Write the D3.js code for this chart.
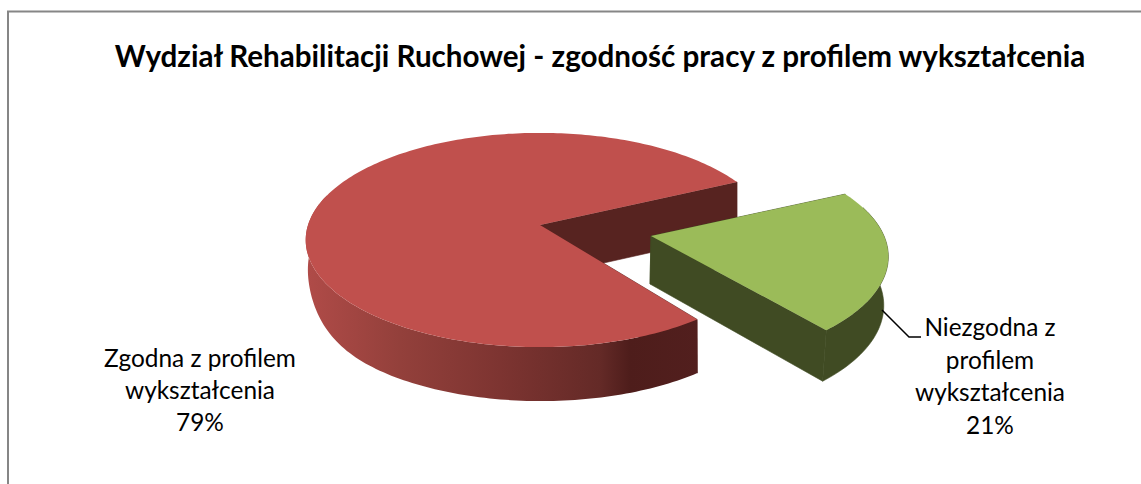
<!DOCTYPE html>
<html>
<head>
<meta charset="utf-8">
<script src="https://cdn.jsdelivr.net/npm/d3@7"></script>
<style>
  html, body { margin: 0; padding: 0; background: #fff; }
  svg { display: block; }
  text { font-family: Lato, "Open Sans", sans-serif; fill: #000; }
</style>
</head>
<body>
<div id="chart"></div>
<script>
const title = "Wydział Rehabilitacji Ruchowej - zgodność pracy z profilem wykształcenia";
const categories = ["Zgodna z profilem wykształcenia", "Niezgodna z profilem wykształcenia"];
const values = [79, 21];
const topColors = ["#c0504d", "#9bbb59"];
const wallColors = ["#572320", "#404b23"];

const width = 1141;
const height = 484;

const svg = d3.select("#chart")
  .append("svg")
  .attr("width", width)
  .attr("height", height)
  .attr("viewBox", [0, 0, width, height]);

// frame, only top and left are in the picture
svg.append("path")
  .attr("d", "M8,484V11.5H1141")
  .attr("fill", "none")
  .attr("stroke", "#868686")
  .attr("stroke-width", 2);

svg.append("text")
  .attr("x", 600)
  .attr("y", 67)
  .attr("text-anchor", "middle")
  .attr("font-size", 29.6)
  .attr("font-weight", 700)
  .text(title);

// apex of each slice, green one is pulled out. squeeze and rot bend the angles
// a bit, the 3d perspective of the original is not a clean projection
const slices = [
  {cx: 540, cy: 225, radiusX: 232, radiusY: 105, persp: 0.14, depth: 52, tilt: 2, lift: 25, shift: 1, shrink: 0.995, squeeze: 0.989, rot: 1.45},
  {cx: 651, cy: 236, radiusX: 233, radiusY: 105, persp: 0.19, depth: 48, tilt: 4, lift: 0, shift: -1, shrink: 0.985, squeeze: 1, rot: 0}
];

const pie = d3.pie()
  .sort(null)
  .startAngle(140 * Math.PI / 180)
  .endAngle(500 * Math.PI / 180);
const arcs = pie(values);

function project(s, a, r, bottom) {
  // a = clockwise from back of the plate
  const v = -Math.cos(a) * r;
  const u = Math.sin(a) * r;
  const w = 1 - s.persp * v;
  const x = s.radiusX * u / w;
  const y = s.radiusY * v / w;
  if (!bottom) return [s.cx + x, s.cy + y];
  // left edge of the red rim runs up almost to the top face
  const lift = u < 0 ? s.lift * Math.pow(-u, 10) : 0;
  return [s.cx + s.shift + x * s.shrink, s.cy + s.depth + s.tilt * v + y - lift];
}

function samples(a0, a1) {
  const n = Math.ceil(Math.abs(a1 - a0) / 0.02);
  return d3.range(n + 1).map(i => a0 + (a1 - a0) * i / n);
}

const line = d3.line();

// Outer wall gradient of the red slice
const defs = svg.append("defs");
const x = d3.scaleLinear().domain([306, 700]).range([0, 100]);
const grad = defs.append("linearGradient")
  .attr("id", "redWall")
  .attr("gradientUnits", "userSpaceOnUse")
  .attr("x1", 306).attr("x2", 700).attr("y1", 0).attr("y2", 0);
[[306, "#b04b48"], [400, "#93403b"], [500, "#7d3431"], [600, "#642a27"], [630, "#4e1d1b"], [700, "#521f1e"]]
  .forEach(d => grad.append("stop").attr("offset", x(d[0]) + "%").attr("stop-color", d[1]));

const g = svg.append("g");

arcs.forEach((d, i) => {
  const s = slices[i];
  const mid = (d.startAngle + d.endAngle) / 2;
  const start = mid + (d.startAngle - mid) * s.squeeze + s.rot * Math.PI / 180;
  const end = mid + (d.endAngle - mid) * s.squeeze + s.rot * Math.PI / 180;

  // cut walls, thin stroke hides the seam to the rim
  [start, end].forEach(a => {
    g.append("path")
      .attr("d", line([project(s, a, 0), project(s, a, 1), project(s, a, 1, true), project(s, a, 0, true)]) + "Z")
      .attr("fill", wallColors[i])
      .attr("stroke", wallColors[i])
      .attr("stroke-width", 0.6);
  });

  // rim, only the part facing the viewer (top face covers the rest)
  const angles = samples(start, end);
  const front = angles.filter(a => Math.cos(a) < 0.3);
  const rim = front.map(a => project(s, a, 1))
    .concat(front.slice().reverse().map(a => project(s, a, 1, true)));
  g.append("path")
    .attr("d", line(rim) + "Z")
    .attr("fill", i === 0 ? "url(#redWall)" : wallColors[i])
    .attr("stroke", i === 0 ? "none" : wallColors[i])
    .attr("stroke-width", 0.6);

  // top face
  const top = [project(s, 0, 0)].concat(angles.map(a => project(s, a, 1)));
  g.append("path")
    .attr("d", line(top) + "Z")
    .attr("fill", topColors[i]);
});

// Labels
const labelLines = [
  ["Zgodna z profilem", "wykształcenia", values[0] + "%"],
  ["Niezgodna z", "profilem", "wykształcenia", values[1] + "%"]
];
const labelPos = [
  {x: 200, y: 367, step: 32},
  {x: 990, y: 336, step: 32.7}
];
labelLines.forEach((lines, i) => {
  svg.append("g")
    .selectAll("text")
    .data(lines)
    .join("text")
      .attr("x", labelPos[i].x)
      .attr("y", (t, j) => labelPos[i].y + j * labelPos[i].step)
      .attr("text-anchor", "middle")
      .attr("font-size", 24.4)
      .text(t => t);
});

// leader line
svg.append("path")
  .attr("d", "M882,310L909,337H921")
  .attr("fill", "none")
  .attr("stroke", "#000")
  .attr("stroke-width", 1.5);
</script>
</body>
</html>
